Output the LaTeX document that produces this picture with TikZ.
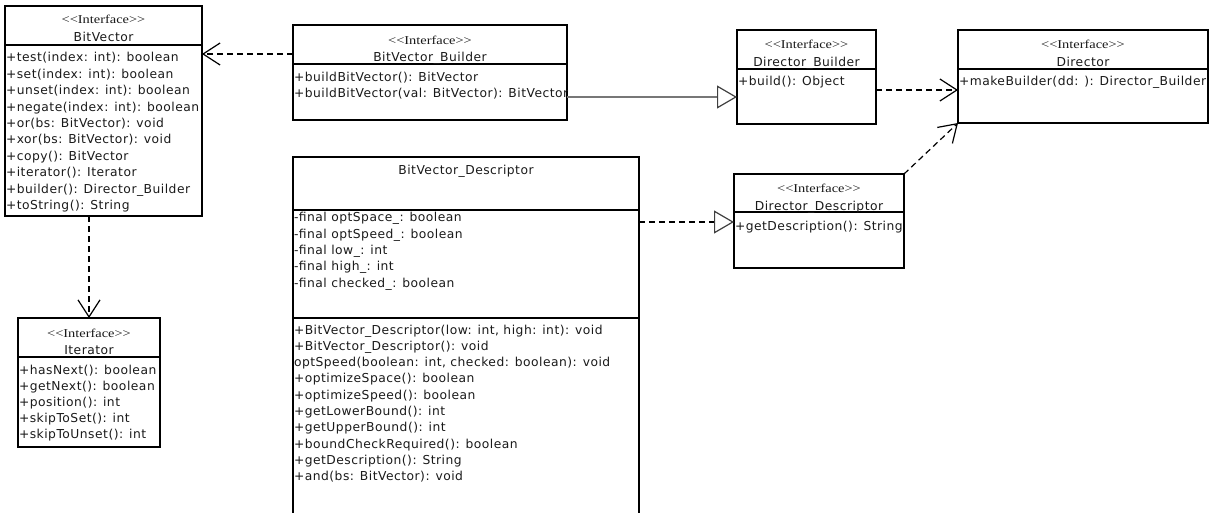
\documentclass[tikz,border=0pt]{standalone}
\usepackage{fontspec}
\setmainfont{DejaVu Sans}
\newfontfamily\memfont[LetterSpace=4]{DejaVu Sans}
\newfontfamily\stereofont{Liberation Serif}
\usetikzlibrary{arrows.meta}
\definecolor{txt}{HTML}{1A1A1A}
\definecolor{genline}{HTML}{777777}
\tikzset{
  x=1pt, y=-1pt,
  box/.style={draw=black, line width=1.2pt, rectangle, inner sep=0pt, outer sep=0pt, fill=white},
  sepline/.style={line width=1.2pt, draw=black},
  mem/.style={anchor=base west, inner sep=0pt, outer sep=0pt, text=txt, font=\memfont\fontsize{12.3}{14}\selectfont},
  cname/.style={anchor=base, inner sep=0pt, outer sep=0pt, text=txt, font=\memfont\fontsize{12.3}{14}\selectfont},
  stereo/.style={anchor=base, inner sep=0pt, outer sep=0pt, text=txt, font=\stereofont\fontsize{12}{14}\selectfont},
  dep/.style={draw=black, line width=1.2pt, dash pattern=on 6pt off 4pt,
    -{Straight Barb[length=17pt, width=22pt, line width=1.2pt]}},
  gen/.style={draw=genline, line width=2.4pt,
    -{Triangle[open, length=20pt, width=23pt, line width=1.2pt, color=black!75]}},
  real/.style={draw=black, line width=1.2pt, dash pattern=on 6pt off 4pt,
    -{Triangle[open, length=20pt, width=23pt, line width=1.2pt, color=black!75]}},
}
\newcommand{\stereotxt}{\scalebox{1.2}[1]{{<}{<}Interface{>}{>}}}
\begin{document}
\begin{tikzpicture}
\useasboundingbox (0,0) rectangle (1217,513);
\clip (0,0) rectangle (1217,513);
\fill[white] (0,0) rectangle (1217,513);

% ---------- BitVector ----------
\node[box, minimum width=197pt, minimum height=210pt] (bv) at (103.5,111) {};
\draw[sepline] (bv.west |- 0,45) -- (bv.east |- 0,45);
\node[stereo] (bvs) at (103.5,24) {\stereotxt};
\node[cname] (bvn) at (103.5,42) {BitVector};
\foreach \t [count=\i from 0] in {
  {+test(index: int): boolean},
  {+set(index: int): boolean},
  {+unset(index: int): boolean},
  {+negate(index: int): boolean},
  {+or(bs: BitVector): void},
  {+xor(bs: BitVector): void},
  {+copy(): BitVector},
  {+iterator(): Iterator},
  {+builder(): Director\_Builder},
  {+toString(): String}}
  \node[mem] (bvm\i) at (6,62+16.4*\i) {\t};

% ---------- BitVector_Builder ----------
\node[box, minimum width=274pt, minimum height=95pt] (bvb) at (430,72.5) {};
\draw[sepline] (bvb.west |- 0,64) -- (bvb.east |- 0,64);
\node[stereo] (bvbs) at (430,45) {\stereotxt};
\node[cname] (bvbn) at (430,62) {BitVector\_Builder};
\node[mem] (bvbm0) at (294,82) {+buildBitVector(): BitVector};
\node[mem] (bvbm1) at (294,98) {+buildBitVector(val: BitVector): BitVector};

% ---------- Director_Builder ----------
\node[box, minimum width=139pt, minimum height=94pt] (db) at (806.5,77) {};
\draw[sepline] (db.west |- 0,69) -- (db.east |- 0,69);
\node[stereo] (dbs) at (806.5,49) {\stereotxt};
\node[cname] (dbn) at (806.5,67) {Director\_Builder};
\node[mem] (dbm0) at (738,86) {+build(): Object};

% ---------- Director ----------
\node[box, minimum width=250pt, minimum height=93pt] (d) at (1083,76.5) {};
\draw[sepline] (d.west |- 0,69) -- (d.east |- 0,69);
\node[stereo] (ds) at (1083,49) {\stereotxt};
\node[cname] (dn) at (1083,67) {Director};
\node[mem] (dm0) at (959,86) {+makeBuilder(dd: ): Director\_Builder};

% ---------- Director_Descriptor ----------
\node[box, minimum width=170pt, minimum height=94pt] (dd) at (819,221) {};
\draw[sepline] (dd.west |- 0,212) -- (dd.east |- 0,212);
\node[stereo] (dds) at (819,193) {\stereotxt};
\node[cname] (ddn) at (819,210) {Director\_Descriptor};
\node[mem] (ddm0) at (735,230) {+getDescription(): String};

% ---------- BitVector_Descriptor ----------
\node[box, minimum width=346pt, minimum height=383pt] (bvd) at (466,348.5) {};
\draw[sepline] (bvd.west |- 0,210) -- (bvd.east |- 0,210);
\draw[sepline] (bvd.west |- 0,318) -- (bvd.east |- 0,318);
\node[cname] (bvdn) at (466,175) {BitVector\_Descriptor};
\foreach \t [count=\i from 0] in {
  {-final optSpace\_: boolean},
  {-final optSpeed\_: boolean},
  {-final low\_: int},
  {-final high\_: int},
  {-final checked\_: boolean}}
  \node[mem] (bvda\i) at (294,222+16.3*\i) {\t};
\foreach \t [count=\i from 0] in {
  {+BitVector\_Descriptor(low: int, high: int): void},
  {+BitVector\_Descriptor(): void},
  {optSpeed(boolean: int, checked: boolean): void},
  {+optimizeSpace(): boolean},
  {+optimizeSpeed(): boolean},
  {+getLowerBound(): int},
  {+getUpperBound(): int},
  {+boundCheckRequired(): boolean},
  {+getDescription(): String},
  {+and(bs: BitVector): void}}
  \node[mem] (bvdm\i) at (294,334+16.3*\i) {\t};

% ---------- Iterator ----------
\node[box, minimum width=142pt, minimum height=129pt] (it) at (89,382.5) {};
\draw[sepline] (it.west |- 0,357) -- (it.east |- 0,357);
\node[stereo] (its) at (89,337) {\stereotxt};
\node[cname] (itn) at (89,354) {Iterator};
\foreach \t [count=\i from 0] in {
  {+hasNext(): boolean},
  {+getNext(): boolean},
  {+position(): int},
  {+skipToSet(): int},
  {+skipToUnset(): int}}
  \node[mem] (itm\i) at (19,374+16.2*\i) {\t};

% ---------- connectors ----------
\draw[dep] (bvb.west |- 0,54) -- (bv.east |- 0,54);
\draw[gen] (bvb.east |- 0,97) -- (db.west |- 0,97);
\draw[dep] (db.east |- 0,90) -- (d.west |- 0,90);
\draw[dep] (dd.north east) -- (d.south west);
\draw[real] (bvd.east |- 0,222) -- (dd.west |- 0,222);
\draw[dep] (bv.south -| 89,0) -- (it.north -| 89,0);
\end{tikzpicture}
\end{document}
